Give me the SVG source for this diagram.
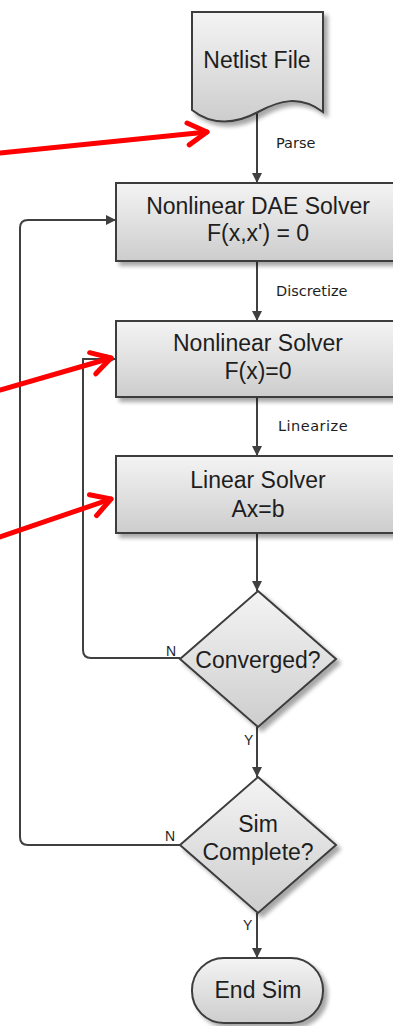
<svg xmlns="http://www.w3.org/2000/svg" width="393" height="1026" viewBox="0 0 393 1026">
<defs>
<linearGradient id="g" x1="0" y1="0" x2="0" y2="1">
<stop offset="0" stop-color="#f4f4f4"/>
<stop offset="1" stop-color="#cdcdcd"/>
</linearGradient>
<filter id="sh" x="-10%" y="-10%" width="130%" height="130%">
<feGaussianBlur in="SourceAlpha" stdDeviation="2"/>
<feOffset dx="4" dy="4" result="b"/>
<feComponentTransfer in="b" result="c"><feFuncA type="linear" slope="0.35"/></feComponentTransfer>
<feMerge><feMergeNode in="c"/><feMergeNode in="SourceGraphic"/></feMerge>
</filter>
<marker id="ah" viewBox="0 0 10 10" refX="10" refY="5" markerWidth="10" markerHeight="10" markerUnits="userSpaceOnUse" orient="auto">
<path d="M0,0 L10,5 L0,10 Z" fill="#404040"/>
</marker>
<marker id="rh" viewBox="-24 -14 28 28" refX="0" refY="0" markerWidth="28" markerHeight="28" markerUnits="userSpaceOnUse" orient="auto">
<path d="M-19,-11 L0,0 L-19,11" fill="none" stroke="#ff0000" stroke-width="5" stroke-linecap="round" stroke-linejoin="round"/>
</marker>
</defs>
<style>
.shape{fill:url(#g);stroke:#3c3c3c;stroke-width:2;filter:url(#sh)}
.t{font-family:"Liberation Sans",Arial,sans-serif;font-size:23px;fill:#1e1e1e;text-anchor:middle}
.lbl{font-family:"DejaVu Sans",sans-serif;font-size:14.5px;fill:#1e1e1e}
.yn{font-family:"Liberation Sans",Arial,sans-serif;font-size:14px;fill:#1e1e1e}
.c{fill:none;stroke:#404040;stroke-width:2}
.red{fill:none;stroke:#ff0000;stroke-width:5;stroke-linecap:round}
</style>
<rect width="393" height="1026" fill="#ffffff"/>

<g id="connectors">
<path class="c" d="M257,113 V183" marker-end="url(#ah)"/>
<path class="c" d="M257,261 V321" marker-end="url(#ah)"/>
<path class="c" d="M257,397 V456" marker-end="url(#ah)"/>
<path class="c" d="M257,533 V591" marker-end="url(#ah)"/>
<path class="c" d="M257,727 V777" marker-end="url(#ah)"/>
<path class="c" d="M257,913 V958" marker-end="url(#ah)"/>
<path class="c" d="M180,845 H28 Q20,845 20,837 V228 Q20,220 28,220 H116" marker-end="url(#ah)"/>
<path class="c" d="M180,658 H91 Q83,658 83,650 V359 H116" marker-end="url(#ah)"/>
<text class="lbl" x="276" y="148">Parse</text>
<text class="lbl" x="276" y="296">Discretize</text>
<text class="lbl" x="278" y="431" letter-spacing="0.5">Linearize</text>
<text class="yn" x="166" y="656">N</text>
<text class="yn" x="244" y="745">Y</text>
<text class="yn" x="165" y="841">N</text>
<text class="yn" x="243" y="930">Y</text>
</g>

<g id="netlist">
<path class="shape" d="M192,12 H323 V112 C300,95 280,100 258,112 C236,124 212,126 192,110 Z"/>
<text class="t" x="257" y="68">Netlist File</text>
</g>

<g id="dae">
<rect class="shape" x="116" y="183" width="282" height="78"/>
<text class="t" x="258" y="214">Nonlinear DAE Solver</text>
<text class="t" x="258" y="241">F(x,x') = 0</text>
</g>

<g id="nonlinear">
<rect class="shape" x="116" y="321" width="282" height="76"/>
<text class="t" x="258" y="351">Nonlinear Solver</text>
<text class="t" x="258" y="379">F(x)=0</text>
</g>

<g id="linear">
<rect class="shape" x="116" y="456" width="282" height="77"/>
<text class="t" x="258" y="488">Linear Solver</text>
<text class="t" x="258" y="517">Ax=b</text>
</g>

<g id="converged">
<path class="shape" d="M258,591 L336,659 L258,727 L180,659 Z"/>
<text class="t" x="258" y="668">Converged?</text>
</g>

<g id="simcomplete">
<path class="shape" d="M258,777 L336,845 L258,913 L180,845 Z"/>
<text class="t" x="258" y="832">Sim</text>
<text class="t" x="258" y="860">Complete?</text>
</g>

<g id="endsim">
<rect class="shape" x="192" y="958" width="131" height="65" rx="32" ry="32"/>
<text class="t" x="258" y="998">End Sim</text>
</g>

<g id="annotations">
<path class="red" d="M0,153 L207,132" marker-end="url(#rh)"/>
<path class="red" d="M0,390 L111,358" marker-end="url(#rh)"/>
<path class="red" d="M0,537 L111,499" marker-end="url(#rh)"/>
</g>
</svg>
